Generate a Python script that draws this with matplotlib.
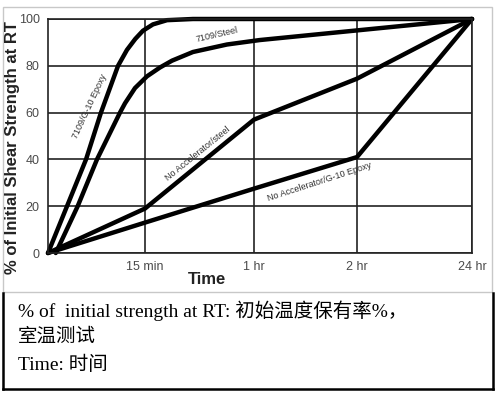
import numpy as np
import matplotlib
matplotlib.use('Agg')
import matplotlib.pyplot as plt
from matplotlib.patches import Rectangle
from matplotlib.lines import Line2D

# x ticks (time, non-uniform) and y ticks
time_labels = ['15 min', '1 hr', '2 hr', '24 hr']
time_idx = [1, 2, 3, 4]
y_ticks = [0, 20, 40, 60, 80, 100]

# curves: x is position on the time axis (0 = start, 1 = 15 min, 2 = 1 hr, 3 = 2 hr, 4 = 24 hr)
epoxy_7109_x = [0, 0.196, 0.392, 0.546, 0.722, 0.814, 0.90, 0.979, 1.073, 1.202, 1.44, 4]
epoxy_7109_y = [0, 20, 40, 60, 80, 86.8, 91.5, 95, 97.7, 99.5, 100, 100]

steel_7109_x = [0.08, 0.306, 0.505, 0.742, 0.794, 0.897, 1.018, 1.138, 1.248, 1.44, 1.752, 2.055, 4]
steel_7109_y = [0, 20, 40, 60, 64, 70.5, 75.5, 79.3, 82.2, 85.9, 89.1, 91, 100]

noacc_steel_x = [0, 1, 2, 3, 4]
noacc_steel_y = [0, 19, 57, 74.5, 100]

noacc_epoxy_x = [0, 1, 2, 3, 4]
noacc_epoxy_y = [0, 13, 27.5, 41, 100]

# the picture's time axis is not evenly spaced: fraction of width per tick
tick_frac = [0, 0.2288, 0.4858, 0.7288, 1.0]
def fwd(x):
    return np.interp(x, [0, 1, 2, 3, 4], tick_frac)
def inv(f):
    return np.interp(f, tick_frac, [0, 1, 2, 3, 4])

W, H = 497, 395
fig = plt.figure(figsize=(W / 100, H / 100), dpi=100)

# grey frame round the chart, black frame round the note
fig.add_artist(Rectangle((3 / W, 1 - 292 / H), 489 / W, 285 / H, transform=fig.transFigure,
                         fill=False, edgecolor='#c8c8c8', lw=1))
for xs, ys in [([2.5, 2.5], [293, 389]), ([492.5, 492.5], [293, 389]), ([2.5, 492.5], [389, 389])]:
    fig.add_artist(Line2D([x / W for x in xs], [1 - y / H for y in ys], transform=fig.transFigure,
                          color='black', lw=1.8, solid_capstyle='projecting'))

ax = fig.add_axes([48 / W, 1 - 253 / H, 424 / W, 234 / H])
ax.set_xscale('function', functions=(fwd, inv))
ax.set_xlim(0, 4)
ax.set_ylim(0, 100)

ax.grid(True, color='#222222', lw=1.2)
ax.set_axisbelow(True)
for s in ax.spines.values():
    s.set_color('#222222')
    s.set_linewidth(1.2)

lw = 3.2
for xs, ys in [(epoxy_7109_x, epoxy_7109_y), (steel_7109_x, steel_7109_y),
               (noacc_steel_x, noacc_steel_y), (noacc_epoxy_x, noacc_epoxy_y)]:
    ax.plot(xs, ys, color='black', lw=lw, solid_joinstyle='round', solid_capstyle='round', clip_on=False)

ax.set_xticks(time_idx)
ax.set_xticklabels(time_labels)
ax.set_yticks(y_ticks)
ax.tick_params(length=0, labelsize=9, labelcolor='#4a4a4a', pad=6)
for t in ax.get_xticklabels() + ax.get_yticklabels():
    t.set_family('Liberation Sans')

lab = dict(fontsize=6.5, color='#333333', family='Liberation Sans', ha='center', va='center',
           rotation_mode='anchor')
ax.text(0.43, 62.7, '7109/G-10 Epoxy', rotation=65, **lab)
ax.text(1.66, 93.4, '7109/Steel', rotation=13, **lab)
ax.text(1.48, 42.5, 'No Accelerator/steel', rotation=39, **lab)
ax.text(2.64, 30.6, 'No Accelerator/G-10 Epoxy', rotation=18, **lab)

fig.text(13 / W, 1 - 148 / H, '% of Initial Shear Strength at RT', rotation=90, ha='center', va='center',
         fontsize=12, fontweight='bold', family='Liberation Sans', color='#222222')
fig.text(207 / W, 1 - 279 / H, 'Time', ha='center', va='center',
         fontsize=12, fontweight='bold', family='Liberation Sans', color='#222222')

note = dict(fontsize=14, family=['Liberation Serif', 'Noto Sans CJK SC'], ha='left', va='center', color='black')
fig.text(18 / W, 1 - 311 / H, '% of  initial strength at RT: 初始温度保有率%，', **note)
fig.text(18 / W, 1 - 337 / H, '室温测试', **note)
fig.text(18 / W, 1 - 365 / H, 'Time: 时间', **note)

fig.savefig('out.png', dpi=100)
